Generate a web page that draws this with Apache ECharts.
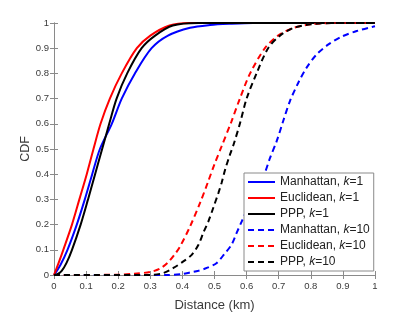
<!DOCTYPE html>
<html>
<head>
<meta charset="utf-8">
<script src="https://cdn.jsdelivr.net/npm/echarts@6/dist/echarts.min.js"></script>
<style>html,body{margin:0;padding:0;background:#fff;}#c{width:415px;height:312px;}</style>
</head>
<body>
<div id="c"></div>
<script>
const xTicks = [0, 0.1, 0.2, 0.3, 0.4, 0.5, 0.6, 0.7, 0.8, 0.9, 1];
const yTicks = [0, 0.1, 0.2, 0.3, 0.4, 0.5, 0.6, 0.7, 0.8, 0.9, 1];
const seriesNames = ['Manhattan, k=1', 'Euclidean, k=1', 'PPP, k=1', 'Manhattan, k=10', 'Euclidean, k=10', 'PPP, k=10'];

const manhattan1X = [0, 0.02, 0.042, 0.071, 0.096, 0.119, 0.143, 0.18, 0.211, 0.252, 0.304, 0.355, 0.424, 0.486, 0.55, 0.62, 1];
const manhattan1Y = [0, 0.04, 0.1, 0.2, 0.3, 0.4, 0.5, 0.6, 0.7, 0.8, 0.9, 0.95, 0.981, 0.992, 0.997, 1, 1];

const euclid1X = [0, 0.015, 0.029, 0.056, 0.079, 0.102, 0.123, 0.145, 0.174, 0.211, 0.258, 0.3, 0.36, 0.42, 1];
const euclid1Y = [0, 0.05, 0.1, 0.2, 0.3, 0.4, 0.5, 0.6, 0.7, 0.8, 0.9, 0.95, 0.99, 1, 1];

const ppp1X = [0, 0.012, 0.024, 0.039, 0.056, 0.083, 0.106, 0.128, 0.15, 0.172, 0.195, 0.228, 0.273, 0.315, 0.37, 0.45, 1];
const ppp1Y = [0, 0.004, 0.016, 0.048, 0.1, 0.2, 0.3, 0.4, 0.5, 0.6, 0.7, 0.8, 0.9, 0.95, 0.99, 1, 1];

const manhattan10X = [0, 0.35, 0.4, 0.424, 0.45, 0.476, 0.507, 0.533, 0.553, 0.569, 0.585, 0.62, 0.657, 0.673, 0.694, 0.714, 0.735, 0.761, 0.787, 0.818, 0.855, 0.896, 0.943, 0.993, 1];
const manhattan10Y = [0, 0, 0.004, 0.01, 0.017, 0.028, 0.048, 0.087, 0.12, 0.167, 0.213, 0.31, 0.406, 0.465, 0.532, 0.611, 0.69, 0.763, 0.823, 0.875, 0.915, 0.946, 0.968, 0.985, 0.987];

const euclid10X = [0, 0.2, 0.25, 0.3, 0.33, 0.355, 0.375, 0.393, 0.424, 0.455, 0.48, 0.5, 0.522, 0.553, 0.579, 0.611, 0.657, 0.698, 0.745, 0.8, 0.87, 1];
const euclid10Y = [0, 0.001, 0.005, 0.012, 0.025, 0.05, 0.08, 0.114, 0.193, 0.286, 0.37, 0.44, 0.51, 0.61, 0.7, 0.8, 0.9, 0.95, 0.98, 0.995, 1, 1];

const ppp10X = [0, 0.3, 0.341, 0.372, 0.403, 0.429, 0.45, 0.465, 0.481, 0.496, 0.512, 0.522, 0.533, 0.548, 0.56, 0.579, 0.6, 0.631, 0.667, 0.704, 0.745, 0.8, 0.87, 1];
const ppp10Y = [0, 0, 0.008, 0.028, 0.054, 0.08, 0.12, 0.167, 0.213, 0.266, 0.325, 0.365, 0.418, 0.477, 0.52, 0.6, 0.7, 0.8, 0.9, 0.95, 0.98, 0.995, 1, 1];

const FONT = 'Liberation Sans, Arial, Helvetica, sans-serif';
const AXIS_COLOR = '#8a8a8a';
const LABEL_COLOR = '#3a3a3a';

function pairs(xs, ys) { return xs.map((x, i) => [x, ys[i]]); }
function fmtTick(v) { return String(Math.round(v * 10) / 10); }

const seriesDefs = [
  { x: manhattan1X, y: manhattan1Y, color: '#0000ff', type: 'solid' },
  { x: euclid1X, y: euclid1Y, color: '#ff0000', type: 'solid' },
  { x: ppp1X, y: ppp1Y, color: '#000000', type: 'solid' },
  { x: manhattan10X, y: manhattan10Y, color: '#0000ff', type: [6, 4] },
  { x: euclid10X, y: euclid10Y, color: '#ff0000', type: [6, 4] },
  { x: ppp10X, y: ppp10Y, color: '#000000', type: [6, 4] }
];

const axisCommon = {
  type: 'value', min: 0, max: 1, interval: 0.1,
  axisLine: { show: true, lineStyle: { color: AXIS_COLOR, width: 1 } },
  axisTick: { show: true, inside: true, length: 4, lineStyle: { color: AXIS_COLOR } },
  splitLine: { show: false }
};

const chart = echarts.init(document.getElementById('c'), null, { renderer: 'canvas' });
chart.setOption({
  animation: false,
  backgroundColor: '#fff',
  textStyle: { fontFamily: FONT },
  grid: { left: 54, right: 40, top: 23, bottom: 37, containLabel: false, outerBoundsMode: 'none' },
  xAxis: [
    Object.assign({}, axisCommon, {
      position: 'bottom',
      name: 'Distance (km)', nameLocation: 'middle', nameGap: 24, nameMoveOverlap: false,
      nameTextStyle: { fontSize: 13, color: LABEL_COLOR, fontFamily: FONT },
      axisLabel: { fontSize: 9.5, color: LABEL_COLOR, margin: 6, fontFamily: FONT, formatter: v => fmtTick(v) }
    }),
    Object.assign({}, axisCommon, { position: 'top', axisLabel: { show: false } })
  ],
  yAxis: [
    Object.assign({}, axisCommon, {
      position: 'left',
      name: 'CDF', nameLocation: 'middle', nameGap: 22, nameRotate: 90, nameMoveOverlap: false,
      nameTextStyle: { fontSize: 12.5, color: LABEL_COLOR, fontFamily: FONT },
      axisLabel: { fontSize: 9.5, color: LABEL_COLOR, margin: 5, fontFamily: FONT, formatter: v => fmtTick(v) }
    }),
    Object.assign({}, axisCommon, { position: 'right', axisLabel: { show: false } })
  ],
  legend: {
    orient: 'vertical',
    left: 244, top: 173,
    padding: [3, 4, 3, 3],
    itemWidth: 27, itemHeight: 10, itemGap: 4,
    backgroundColor: '#fff',
    borderColor: '#8a8a8a', borderWidth: 1,
    itemStyle: { opacity: 0 },
    data: seriesNames,
    formatter: function (name) {
      const idx = name.indexOf('k=');
      return '{n|' + name.slice(0, idx) + '}{i|k}{n|' + name.slice(idx + 1) + '}';
    },
    textStyle: {
      color: '#222', fontSize: 12, fontFamily: FONT, lineHeight: 10,
      rich: {
        n: { fontSize: 12, fontFamily: FONT, color: '#222', lineHeight: 10 },
        i: { fontSize: 12, fontFamily: FONT, color: '#222', fontStyle: 'italic', lineHeight: 10 }
      }
    }
  },
  series: seriesDefs.map((d, i) => ({
    name: seriesNames[i],
    type: 'line',
    xAxisIndex: 0, yAxisIndex: 0,
    data: pairs(d.x, d.y),
    symbol: 'none',
    smooth: 0.3,
    lineStyle: { color: d.color, width: 2, type: d.type },
    itemStyle: { color: d.color },
    z: 2 + i * 0.01
  }))
});
</script>
</body>
</html>
